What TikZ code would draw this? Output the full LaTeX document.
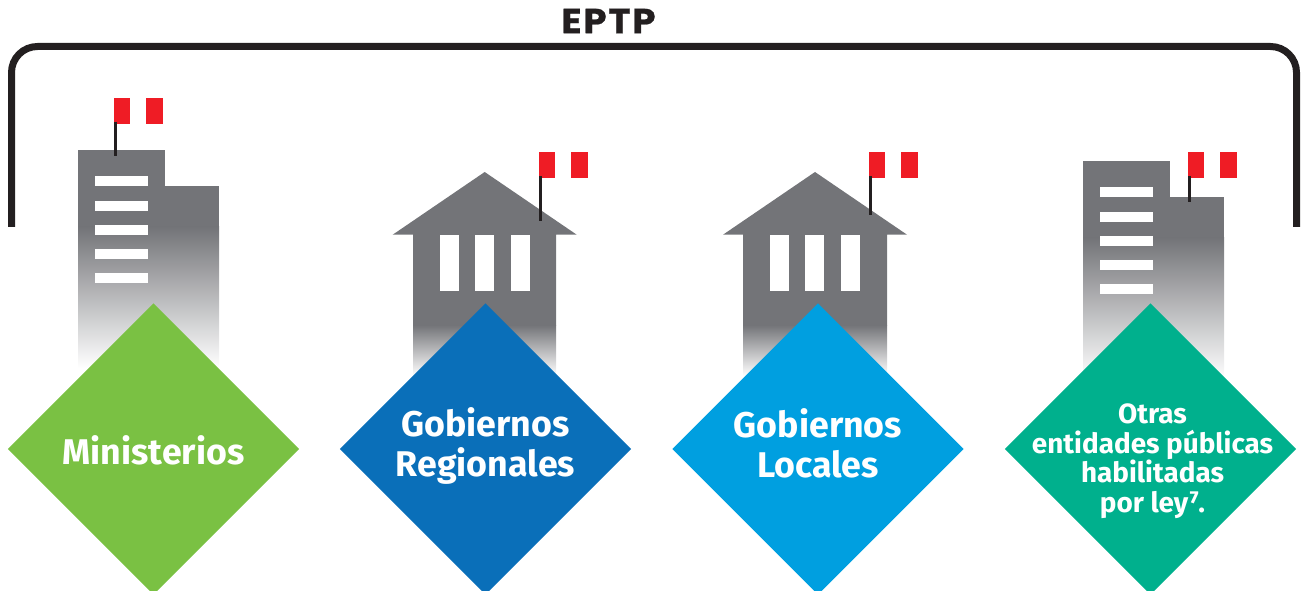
\documentclass[tikz,border=0pt]{standalone}
\usepackage{fontspec}
\setmainfont{Fira Sans}
\newfontfamily\eptpfont[LetterSpace=5,BoldFeatures={FakeBold=0.6,FakeStretch=1.08}]{Poppins}
\usetikzlibrary{shapes.geometric}
\definecolor{bgray}{HTML}{737478}
\definecolor{ink}{HTML}{231F20}
\definecolor{flagred}{HTML}{EF1C25}
\definecolor{cgreen}{HTML}{7AC143}
\definecolor{cblue}{HTML}{0A6FB9}
\definecolor{ccyan}{HTML}{009FE0}
\definecolor{cteal}{HTML}{00B08D}
\tikzset{
  wall/.style={fill=bgray},
  fade/.style={top color=bgray,bottom color=white,shading angle=0},
  glass/.style={fill=white},
  flagcloth/.style={fill=flagred},
  pole/.style={draw=ink,line width=2.25pt},
  tile/.style={diamond,aspect=1,inner sep=0pt,minimum width=218.6pt,minimum height=218.6pt},
  tiletext/.style={text=white,font=\fontsize{26.8}{30}\selectfont\bfseries,align=center,inner sep=0pt},
  smalltext/.style={text=white,font=\fontsize{20.9}{22.2}\selectfont\bfseries,align=center,inner sep=0pt},
}
\newcommand{\flagset}[3]{% left x, top y, pole bottom
  \fill[flagcloth] (#1,#2) rectangle ++(16,26);
  \fill[flagcloth] (#1+32,#2) rectangle ++(17,26);
  \draw[pole] (#1+1.5,#2+24) -- (#1+1.5,#3);
}
\newcommand{\tower}[2]{% left x, top y
  \fill[wall] (#1,#2) rectangle (#1+87,#2+36);
  \fill[wall] (#1,#2+36) rectangle (#1+141,#2+78);
  \shade[fade] (#1,#2+77) rectangle (#1+141,#2+218);
  \foreach \wy in {26,51,75,99,123}{
    \fill[glass] (#1+17,#2+\wy) rectangle ++(53,10);
  }
}
\newcommand{\house}[3]{% apex x, body left x, body right x
  \fill[wall] (#1,172) -- (#1+92,234.7) -- (#3,234.7) -- (#3,325.5) -- (#2,325.5) -- (#2,234.7) -- (#1-92,234.7) -- cycle;
  \shade[fade] (#2,325) rectangle (#3,376);
  \foreach \wx in {-45,-10,26}{
    \fill[glass] (#1+\wx,234.7) rectangle ++(19,56.5);
  }
}
\begin{document}
\begin{tikzpicture}[x=0.75pt,y=-0.75pt]
\useasboundingbox (0,0) rectangle (1301,591);
\clip (0,0) rectangle (1301,591);
% bracket
\coordinate (bl) at (11.5,227);
\coordinate (br) at (1296.5,227);
\draw[ink,line width=5.25pt,rounded corners=19.5pt] (bl) -- (11.5,46.5) -- (1296.5,46.5) -- (br);
\node[text=ink,font=\fontsize{26}{26}\selectfont\eptpfont\bfseries,inner sep=0pt] (title) at (608.5,21) {EPTP};
% buildings
\tower{78}{150}
\flagset{114}{98}{156}
\house{484.7}{413}{556}
\flagset{539}{152}{221}
\house{815}{743}{887}
\flagset{869}{152}{215}
\tower{1083}{161}
\flagset{1188}{152}{202}
% tiles
\node[tile,fill=cgreen] (d1) at (153.5,449) {};
\node[tile,fill=cblue] (d2) at (485.5,449) {};
\node[tile,fill=ccyan] (d3) at (818,449) {};
\node[tile,fill=cteal] (d4) at (1150.5,449) {};
\node[tiletext] (t1) at (153.5,450) {Ministerios};
\node[tiletext] (t2) at (485.5,446) {Gobiernos\\Regionales};
\node[tiletext] (t3) at (818,443) {Gobiernos\\Locales};
\node[smalltext] (t4) at (1152.5,461) {Otras\\entidades públicas\\habilitadas\\por ley⁷.};
\end{tikzpicture}
\end{document}
